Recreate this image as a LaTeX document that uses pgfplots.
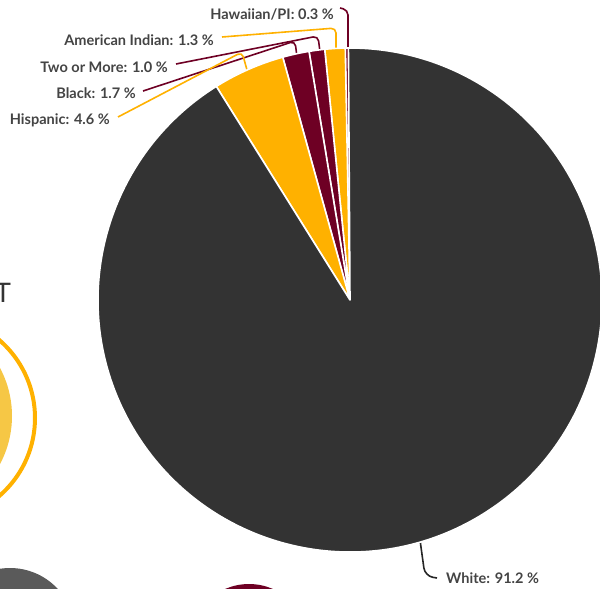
\documentclass[border=0pt]{standalone}
\usepackage{pgfplots}
\pgfplotsset{compat=1.18}
\usepackage{fontspec}
\setmainfont{Lato}

\definecolor{piedark}{HTML}{333333}
\definecolor{piegold}{HTML}{FFB100}
\definecolor{piemaroon}{HTML}{6E0024}
\definecolor{labelgray}{HTML}{444444}
\definecolor{softgold}{HTML}{F6C745}
\definecolor{midgray}{HTML}{5A5A5A}

\begin{document}
\begin{tikzpicture}
\begin{axis}[
    name=ax,
    width=600bp, height=588bp, scale only axis,
    xmin=0, xmax=600, ymin=0, ymax=588,
    y dir=reverse,
    axis lines=none, ticks=none,
    clip=true,
]
% bits of neighbouring charts at the edges
\draw[piegold, line width=4bp] (axis cs:-68,418) circle[radius=103bp];
\fill[softgold] (axis cs:-90,416) circle[radius=102bp];
\fill[midgray] (axis cs:10,633) circle[radius=65bp];
\fill[piemaroon] (axis cs:249,644) circle[radius=60bp];
\node[font=\fontsize{27}{30}\selectfont, text=piedark] at (axis cs:3,293) {T};

% leader lines
\begin{scope}[line width=1.6bp, rounded corners=5bp]
\draw[piemaroon] (axis cs:340,8) -- (axis cs:348,10) -- (axis cs:348,48);
\draw[piegold] (axis cs:222,37) -- (axis cs:336,28) -- (axis cs:336,49);
\draw[piemaroon] (axis cs:176,64) -- (axis cs:318,36) -- (axis cs:320,52);
\draw[piemaroon] (axis cs:143,91) -- (axis cs:295,41) -- (axis cs:297,57);
\draw[piegold] (axis cs:118,117) -- (axis cs:242,52) -- (axis cs:247,70);
\draw[black!85, rounded corners=8bp] (axis cs:420,540) -- (axis cs:425,576) -- (axis cs:437,578);
\end{scope}

% pie: shares in percent, counter-clockwise from 12 o'clock
\gdef\curang{90}
\foreach \v/\c in {0.3/piemaroon, 1.3/piegold, 1.0/piemaroon, 1.7/piemaroon, 4.6/piegold, 91.2/piedark}{
  \pgfmathsetmacro\nxt{\curang+3.6*\v}
  \edef\temp{\noexpand\fill[\c, draw=white, line width=1.6bp, line join=round]
    (axis cs:350,300) -- ++(\curang:252bp)
    arc[start angle=\curang, end angle=\nxt, radius=252bp] -- cycle;}
  \temp
  \xdef\curang{\nxt}
}

% labels
\begin{scope}[font=\bfseries\fontsize{14.6}{17}\selectfont, text=labelgray, inner sep=0pt]
\node[anchor=east] at (axis cs:334,14) {Hawaiian/PI: 0.3 \%};
\node[anchor=east] at (axis cs:214,40) {American Indian: 1.3 \%};
\node[anchor=east] at (axis cs:168,67) {Two or More: 1.0 \%};
\node[anchor=east] at (axis cs:136,93) {Black: 1.7 \%};
\node[anchor=east] at (axis cs:110,120) {Hispanic: 4.6 \%};
\node[anchor=west] at (axis cs:446,578) {White: 91.2 \%};
\end{scope}
\end{axis}
\pgfresetboundingbox
\useasboundingbox (ax.south west) rectangle (ax.north east);
\end{tikzpicture}
\end{document}
